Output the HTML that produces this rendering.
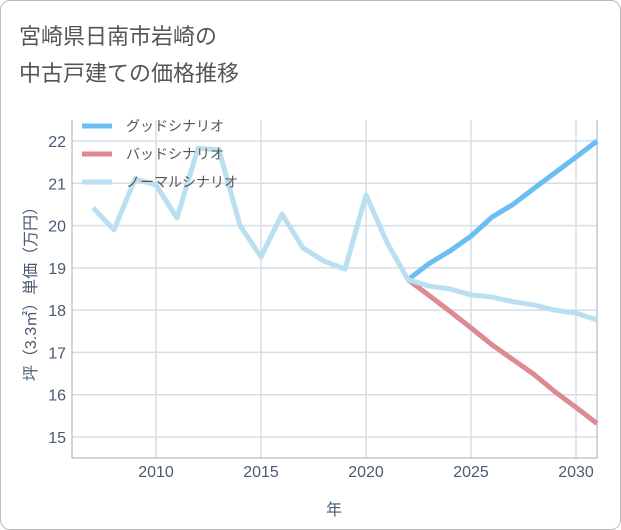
<!DOCTYPE html>
<html><head><meta charset="utf-8"><style>
body{margin:0;background:#fff;}
#wrap{position:relative;width:619px;height:528px;border:1px solid #bbb;border-radius:10px;overflow:hidden;font-family:"Liberation Sans","Noto Sans CJK JP",sans-serif;}
.title{position:absolute;left:18px;font-size:22px;color:#555;}
</style></head><body>
<div id="wrap">
<div class="title" style="top:18px">宮崎県日南市岩崎の</div>
<div class="title" style="top:55px">中古戸建ての価格推移</div>
<svg id="chart" width="621" height="530" style="position:absolute;left:-1px;top:-1px"></svg>
</div>
<script>
const years=[2007,2008,2009,2010,2011,2012,2013,2014,2015,2016,2017,2018,2019,2020,2021,2022,2023,2024,2025,2026,2027,2028,2029,2030,2031];
const normal=[20.42,19.9,21.1,20.96,20.18,21.83,21.79,20.0,19.26,20.27,19.47,19.16,18.97,20.72,19.6,18.72,18.57,18.5,18.36,18.31,18.2,18.12,18.0,17.93,17.77];
const futureYears=[2022,2023,2024,2025,2026,2027,2028,2029,2030,2031];
const good=[18.72,19.1,19.4,19.75,20.2,20.5,20.88,21.25,21.62,22.0];
const bad=[18.72,18.35,17.97,17.58,17.18,16.83,16.48,16.07,15.7,15.32];
const xTicks=[2010,2015,2020,2025,2030];
const yTicks=[15,16,17,18,19,20,21,22];
const NS='http://www.w3.org/2000/svg';
const svg=document.getElementById('chart');
const L=72,R=597,T=120,B=458;
const TXT='#4a5b70';
const x=y=>L+(y-2006)*(R-L)/25;
const yv=v=>141+(22-v)*(437-141)/7;
function mk(t,a){const e=document.createElementNS(NS,t);for(const k in a)e.setAttribute(k,a[k]);svg.appendChild(e);return e;}
xTicks.forEach(t=>{const l=mk('line',{x1:x(t),x2:x(t),y1:T,y2:B,stroke:'#d5dde6','stroke-width':1.5});

const s=mk('text',{x:x(t),y:477,'text-anchor':'middle','font-size':16,fill:TXT});s.textContent=t;
});
yTicks.forEach(t=>{const l=mk('line',{x1:L,x2:R,y1:yv(t),y2:yv(t),stroke:'#d5dde6','stroke-width':1.5});

const s=mk('text',{x:L-6,y:yv(t)+6,'text-anchor':'end','font-size':16,fill:TXT});s.textContent=t;
});
const ax=mk('path',{d:`M${L},${T}V${B}H${R}V${T}`,fill:'none',stroke:'#aab','stroke-width':1});

function line(xs,vs,c,name){const p=mk('polyline',{points:xs.map((t,i)=>x(t)+','+yv(vs[i])).join(' '),fill:'none',stroke:c,'stroke-width':5,'stroke-linejoin':'round'});
}
line(futureYears,good,'#6bbef2','good-scenario-line');
line(futureYears,bad,'#de8a93','bad-scenario-line');
line(years,normal,'#badff0','normal-scenario-line');
const lg=[['グッドシナリオ','#6bbef2'],['バッドシナリオ','#de8a93'],['ノーマルシナリオ','#badff0']];
lg.forEach((g,i)=>{const yy=126+i*28;
const l=mk('line',{x1:82,x2:112,y1:yy,y2:yy,stroke:g[1],'stroke-width':5});

const s=mk('text',{x:126,y:yy+5,'font-size':14,fill:'#555'});s.textContent=g[0];
});
const xt=mk('text',{x:334,y:515,'text-anchor':'middle','font-size':16,fill:TXT});xt.textContent='年';

const yt=mk('text',{x:0,y:0,'text-anchor':'middle','font-size':16,fill:TXT,transform:'translate(36,290) rotate(-90)'});yt.textContent='坪（3.3㎡）単価（万円）';

</script>
</body></html>
